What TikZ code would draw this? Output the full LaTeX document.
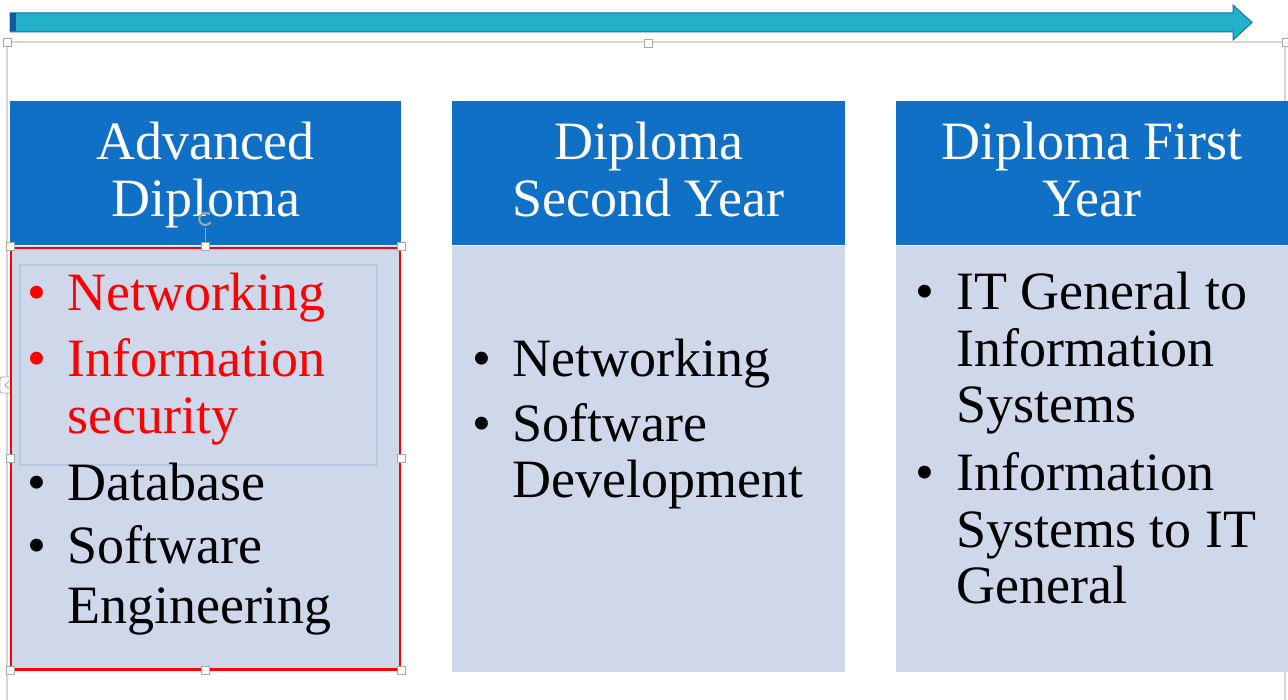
\documentclass[tikz,border=0pt]{standalone}
\usepackage{fontspec}
\setmainfont{Liberation Serif}
\usetikzlibrary{arrows.meta,calc}
\definecolor{hdblue}{HTML}{1070C6}
\definecolor{bodyc}{HTML}{CFD8EB}
\definecolor{innerc}{HTML}{B5C6E0}
\definecolor{arrowfill}{HTML}{23B1C9}
\definecolor{arrowedge}{HTML}{1A6EA6}
\definecolor{darkstrip}{HTML}{0D5A9C}
\definecolor{framec}{HTML}{D6D6D6}
\definecolor{handlec}{HTML}{A8A8A8}
\tikzset{
  hdr/.style={fill=hdblue, draw=none, inner sep=0pt, outer sep=0pt},
  bodybox/.style={fill=bodyc, draw=none, inner sep=0pt, outer sep=0pt},
  bigfont/.style={font=\fontsize{54}{57}\selectfont},
  ht/.style={bigfont, text=white, inner sep=0pt, anchor=base},
  bt/.style={bigfont, text=black, inner sep=0pt, anchor=base west},
  bul/.style={bigfont, text=black, inner sep=0pt, anchor=base},
  redtxt/.style={text=red},
  handle/.style={draw=handlec, fill=white, minimum size=8pt, inner sep=0pt, line width=0.7pt}
}
\begin{document}
\begin{tikzpicture}[x=1pt,y=-1pt]
\useasboundingbox[fill=white] (0,0) rectangle (1288,700);

% timeline arrow
\draw[draw=arrowedge, fill=arrowfill, line width=1pt, line join=miter]
  (10,13) -- (1233,13) -- (1233,5) -- (1252,22.5) -- (1233,40) -- (1233,32) -- (10,32) -- cycle;
\fill[darkstrip] (10,13.5) rectangle (16,31.5);

% outer selection frame
\draw[framec, line width=2.5pt] (7,700) -- (7,42) -- (1285,42) -- (1285,700);
\node[handle] (f1) at (7,42) {};
\node[handle] (f2) at (648,43) {};
\node[handle] (f3) at (1286,42) {};
\node[handle, minimum width=14pt, minimum height=16pt, rounded corners=2pt] (f4) at (7,385) {};
\draw[handlec, line width=1pt] (9,381) -- (5,385) -- (9,389);
\node[handle] (f5) at (1287,385) {};

% column boxes
\node[hdr, minimum width=391pt, minimum height=144pt] (h1) at (205.5,173) {};
\node[hdr, minimum width=393pt, minimum height=144pt] (h2) at (648.5,173) {};
\node[hdr, minimum width=392pt, minimum height=144pt] (h3) at (1092,173) {};
\node[bodybox, minimum width=391pt, minimum height=424pt] (b1) at (205.5,458) {};
\node[bodybox, minimum width=393pt, minimum height=426pt] (b2) at (648.5,459) {};
\node[bodybox, minimum width=392pt, minimum height=426pt] (b3) at (1092,459) {};

% selected shape outline (red) and inner box
\draw[red, line width=2.2pt] (11,248) rectangle (400,669.5);
\node[draw=innerc, line width=2.5pt, minimum width=357pt, minimum height=200pt, inner sep=0pt] (ib) at (198.5,365) {};

% header texts
\node[ht] (t1a) at (205.5,160) {Advanced};
\node[ht] (t1b) at (205.5,217) {Diploma};
\node[ht] (t2a) at (648.5,160) {Diploma};
\node[ht] (t2b) at (648.5,217) {Second Year};
\node[ht] (t3a) at (1092,160) {Diploma First};
\node[ht] (t3b) at (1092,217) {Year};

% column 1 body
\node[bul, redtxt] (c1b1) at (37,311) {•};
\node[bt, redtxt] (c1l1) at (67,311) {Networking};
\node[bul, redtxt] (c1b2) at (37,377) {•};
\node[bt, redtxt] (c1l2) at (67,377) {Information};
\node[bt, redtxt] (c1l3) at (67,433) {security};
\node[bul] (c1b3) at (37,500) {•};
\node[bt] (c1l4) at (67,500) {Database};
\node[bul] (c1b4) at (37,563) {•};
\node[bt] (c1l5) at (67,563) {Software};
\node[bt] (c1l6) at (67,623) {Engineering};

% column 2 body
\node[bul] (c2b1) at (482,377) {•};
\node[bt] (c2l1) at (512,377) {Networking};
\node[bul] (c2b2) at (482,442) {•};
\node[bt] (c2l2) at (512,442) {Software};
\node[bt] (c2l3) at (512,497) {Development};

% column 3 body
\node[bul] (c3b1) at (925,310) {•};
\node[bt] (c3l1) at (956,310) {IT General to};
\node[bt] (c3l2) at (956,367) {Information};
\node[bt] (c3l3) at (956,423) {Systems};
\node[bul] (c3b2) at (925,490) {•};
\node[bt] (c3l4) at (956,490) {Information};
\node[bt] (c3l5) at (956,547) {Systems to IT};
\node[bt] (c3l6) at (956,603) {General};

% rotation handle
\draw[handlec, line width=1.2pt] (b1.north) -- ++(0,-18) coordinate (rot);
\draw[handlec, line width=2pt, -{Stealth[length=4pt,width=5pt]}] ($(rot)+(5,-6)$) arc[start angle=-30, end angle=-320, radius=6pt];

% selection handles on the red shape
\foreach \a in {north west,north,north east,west,east,south west,south,south east}
  \node[handle] at (b1.\a) {};
\end{tikzpicture}
\end{document}
